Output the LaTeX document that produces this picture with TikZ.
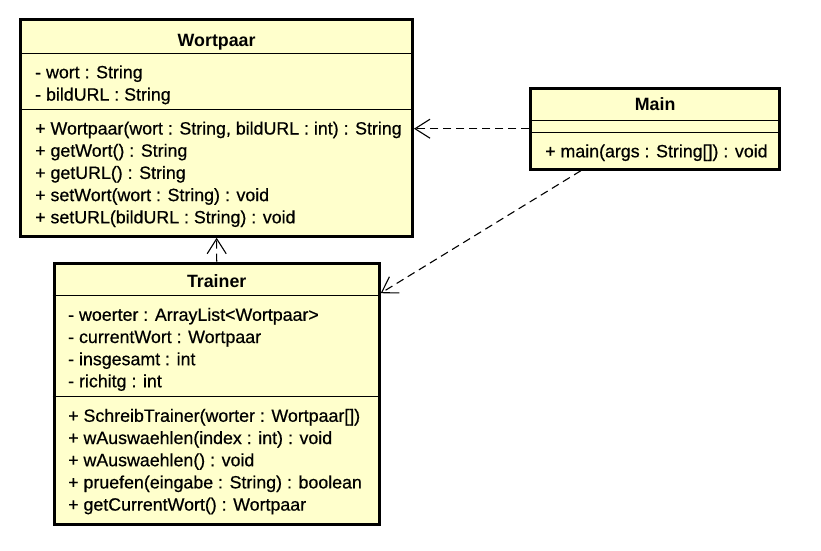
\documentclass[tikz,border=0pt]{standalone}
\usepackage{fontspec}
\setmainfont{Liberation Sans}
\newfontfamily\memberfont[FakeBold=0.6]{Liberation Sans}
\usetikzlibrary{arrows.meta,calc}
\definecolor{classfill}{RGB}{255,255,204}
\tikzset{
  classbox/.style={draw=black, line width=3pt, fill=classfill, rectangle, inner sep=0pt},
  sepline/.style={draw=black, line width=1.2pt},
  member/.style={anchor=base west, inner sep=0pt, font=\memberfont\fontsize{17.8}{20}\selectfont},
  ctitle/.style={anchor=base, inner sep=0pt, font=\fontsize{17.8}{20}\selectfont\bfseries},
  dep/.style={draw=black, line width=1.1pt, dash pattern=on 8pt off 5pt, -{Straight Barb[length=15pt,width=19pt,line width=1.1pt]}}
}
\begin{document}
\begin{tikzpicture}[x=1pt,y=-1pt]
\useasboundingbox (0,0) rectangle (821,550);
% Wortpaar
\node[classbox, minimum width=391.7pt, minimum height=216.4pt] (W) at (216.65,128) {};
\coordinate (Ws1) at (0,53.3);
\coordinate (Ws2) at (0,109.3);
\draw[sepline] (W.west |- Ws1) -- (W.east |- Ws1);
\draw[sepline] (W.west |- Ws2) -- (W.east |- Ws2);
\node[ctitle] (Wt) at (216.65,46) {Wortpaar};
\node[member] (Wa1) at (35,78.3) {- wort : String};
\node[member] (Wa2) at (35,100.6) {- bildURL : String};
\node[member] (Wm1) at (35,134.5) {+ Wortpaar(wort : String, bildURL : int) : String};
\node[member] (Wm2) at (35,156.7) {+ getWort() : String};
\node[member] (Wm3) at (35,178.9) {+ getURL() : String};
\node[member] (Wm4) at (35,201.1) {+ setWort(wort : String) : void};
\node[member] (Wm5) at (35,223.3) {+ setURL(bildURL : String) : void};
% Main
\node[classbox, minimum width=248.7pt, minimum height=81pt] (M) at (655.15,128.7) {};
\coordinate (Ms1) at (0,120.3);
\coordinate (Ms2) at (0,132.6);
\draw[sepline] (M.west |- Ms1) -- (M.east |- Ms1);
\draw[sepline] (M.west |- Ms2) -- (M.east |- Ms2);
\node[ctitle] (Mt) at (655.15,110.5) {Main};
\node[member] (Mm1) at (545,157.3) {+ main(args : String[]) : void};
% Trainer
\node[classbox, minimum width=325pt, minimum height=261pt] (T) at (216.7,393.7) {};
\coordinate (Ts1) at (0,295.7);
\coordinate (Ts2) at (0,396.7);
\draw[sepline] (T.west |- Ts1) -- (T.east |- Ts1);
\draw[sepline] (T.west |- Ts2) -- (T.east |- Ts2);
\node[ctitle] (Tt) at (216.7,287.5) {Trainer};
\node[member] (Ta1) at (68,320.8) {- woerter : ArrayList<Wortpaar>};
\node[member] (Ta2) at (68,343) {- currentWort : Wortpaar};
\node[member] (Ta3) at (68,365.2) {- insgesamt : int};
\node[member] (Ta4) at (68,387.2) {- richitg : int};
\node[member] (Tm1) at (68,421.8) {+ SchreibTrainer(worter : Wortpaar[])};
\node[member] (Tm2) at (68,444) {+ wAuswaehlen(index : int) : void};
\node[member] (Tm3) at (68,466.2) {+ wAuswaehlen() : void};
\node[member] (Tm4) at (68,488.4) {+ pruefen(eingabe : String) : boolean};
\node[member] (Tm5) at (68,510.6) {+ getCurrentWort() : Wortpaar};
% dependencies
\draw[dep] (M.west) -- (M.west -| W.east);
\draw[dep] (T.north) -- (W.south);
\coordinate (Mout) at ($(M.south west)!0.205!(M.south east)$);
\coordinate (Tin) at ($(T.north east)+(0,31.5)$);
\draw[dep] (Mout) -- (Tin);
\end{tikzpicture}
\end{document}
